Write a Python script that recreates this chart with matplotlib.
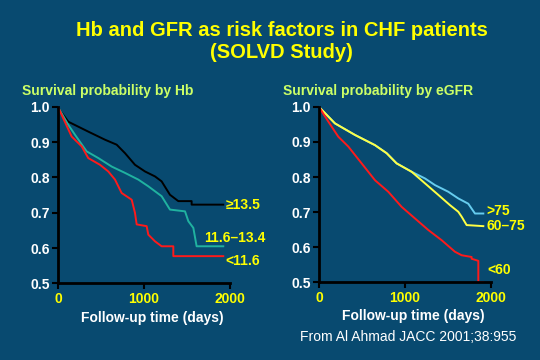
import matplotlib
matplotlib.use('Agg')
import matplotlib.pyplot as plt

# Hb panel (Kaplan-Meier curves)
hb_hi_t = [0, 23, 120, 352, 547, 682, 779, 895, 1012, 1128, 1205, 1302, 1399, 1554, 1554, 1922]
hb_hi_s = [1.0, 0.99, 0.958, 0.93, 0.907, 0.893, 0.869, 0.836, 0.817, 0.803, 0.789, 0.751, 0.733, 0.733, 0.723, 0.723]
hb_mid_t = [0, 120, 198, 333, 469, 624, 779, 934, 1050, 1205, 1302, 1477, 1516, 1574, 1612, 1922]
hb_mid_s = [1.0, 0.949, 0.921, 0.874, 0.855, 0.831, 0.813, 0.794, 0.775, 0.747, 0.709, 0.704, 0.676, 0.657, 0.605, 0.605]
hb_lo_t = [0, 159, 276, 352, 488, 585, 663, 740, 857, 895, 915, 1031, 1050, 1128, 1205, 1341, 1341, 1922]
hb_lo_s = [1.0, 0.916, 0.888, 0.855, 0.836, 0.817, 0.794, 0.756, 0.737, 0.70, 0.667, 0.662, 0.638, 0.619, 0.605, 0.605, 0.577, 0.577]

# eGFR panel
gfr_hi_t = [0, 186, 419, 651, 787, 903, 1078, 1233, 1349, 1504, 1620, 1736, 1814, 1911]
gfr_hi_s = [1.0, 0.953, 0.92, 0.891, 0.868, 0.839, 0.815, 0.796, 0.777, 0.758, 0.739, 0.724, 0.696, 0.696]
gfr_mid_t = [0, 186, 419, 651, 787, 903, 1078, 1233, 1388, 1523, 1620, 1659, 1717, 1911]
gfr_mid_s = [1.0, 0.953, 0.92, 0.891, 0.868, 0.839, 0.815, 0.782, 0.749, 0.72, 0.701, 0.687, 0.663, 0.66]
gfr_lo_t = [0, 109, 225, 341, 496, 651, 806, 961, 1116, 1271, 1426, 1581, 1659, 1775, 1775, 1853, 1853, 1911]
gfr_lo_s = [1.0, 0.958, 0.915, 0.887, 0.839, 0.791, 0.758, 0.715, 0.682, 0.649, 0.62, 0.587, 0.577, 0.572, 0.567, 0.561, 0.5, 0.5]

bg = '#084a70'
yel = '#ffff00'
grn = '#ccff66'
plt.rcParams['font.family'] = ['Liberation Sans', 'DejaVu Sans']
plt.rcParams['font.weight'] = 'bold'

fig = plt.figure(figsize=(5.4, 3.6), dpi=100, facecolor=bg)

fig.text(0.522, 0.915, 'Hb and GFR as risk factors in CHF patients', color=yel,
         fontsize=14.5, fontweight='bold', ha='center', va='center')
fig.text(0.522, 0.853, '(SOLVD Study)', color=yel, fontsize=14.5, fontweight='bold',
         ha='center', va='center')


def panel(rect, title, curves, labels):
    ax = fig.add_axes(rect)
    ax.set_facecolor(bg)
    for t, s, c in curves:
        ax.plot(t, s, color=c, lw=1.4)
    for x, y, txt, c in labels:
        ax.text(x, y, txt, color=c, fontsize=10, fontweight='bold', va='center', clip_on=False)
    ax.set_xlim(0, 2000)
    ax.set_ylim(0.5, 1.0)
    ax.set_xticks([0, 1000, 2000])
    ax.set_yticks([0.5, 0.6, 0.7, 0.8, 0.9, 1.0])
    ax.set_yticklabels(['0.5', '0.6', '0.7', '0.8', '0.9', '1.0'])
    for sp in ['top', 'right']:
        ax.spines[sp].set_visible(False)
    for sp in ['left', 'bottom']:
        ax.spines[sp].set_color('black')
        ax.spines[sp].set_linewidth(2)
    ax.tick_params(axis='both', color='black', width=1.5, length=4, direction='out',
                   labelsize=10, pad=2)
    ax.tick_params(axis='x', labelcolor=yel)
    ax.tick_params(axis='y', labelcolor='white')
    ax.set_xlabel('Follow-up time (days)', color='white', fontsize=10, fontweight='bold')
    ax.xaxis.set_label_coords(0.55, -0.155)
    ax.text(-0.21, 1.09, title, transform=ax.transAxes, color=grn, fontsize=10, fontweight='bold', va='center')
    return ax


panel([0.1074, 0.213, 0.3185, 0.49], 'Survival probability by Hb',
      [(hb_hi_t, hb_hi_s, 'black'), (hb_mid_t, hb_mid_s, '#20b2a0'), (hb_lo_t, hb_lo_s, '#ff1a1a')],
      [(1945, 0.722, '\u226513.5', yel), (1700, 0.628, '11.6\u201313.4', yel), (1945, 0.562, '<11.6', yel)])

panel([0.5907, 0.216, 0.3185, 0.487], 'Survival probability by eGFR',
      [(gfr_hi_t, gfr_hi_s, '#66ccee'), (gfr_mid_t, gfr_mid_s, '#ffff44'), (gfr_lo_t, gfr_lo_s, '#ff1a1a')],
      [(1950, 0.702, '>75', yel), (1950, 0.659, '60\u201375', yel), (1960, 0.535, '<60', yel)])

fig.text(0.555, 0.063, 'From Al Ahmad JACC 2001;38:955', color='white', fontsize=10,
         fontweight='normal', va='center')

fig.savefig('out.png', dpi=100, facecolor=bg)
